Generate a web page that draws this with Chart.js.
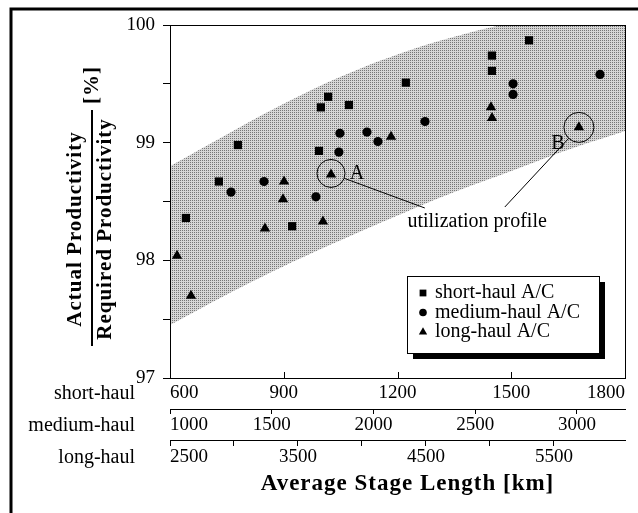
<!DOCTYPE html>
<html>
<head>
<meta charset="utf-8">
<title>Actual / Required Productivity vs Average Stage Length</title>
<script src="https://cdn.jsdelivr.net/npm/chart.js@4.4.1/dist/chart.umd.min.js"></script>
<style>
    html, body { margin: 0; padding: 0; background: #fff; }
    #wrap { width: 638px; height: 513px; }
</style>
</head>
<body>
<div id="wrap"><canvas id="chart" width="638" height="513"></canvas></div>
<script>
(function () {
    "use strict";

    // Data (stage length in km of each fleet's own axis, productivity in %)
    var shortKm   = [1017, 998, 1072, 779, 993, 729, 642, 922, 1222, 1547, 1449, 1449];
    var shortProd = [99.39, 99.30, 99.32, 98.98, 98.93, 98.67, 98.36, 98.29, 99.51, 99.87, 99.74, 99.61];

    var mediumKm   = [1835, 1968, 2022, 1830, 1462, 1300, 1717, 3113, 2686, 2686, 2253];
    var mediumProd = [99.08, 99.09, 99.01, 98.92, 98.67, 98.58, 98.54, 99.58, 99.50, 99.41, 99.18];

    var longKm   = [4227, 3758, 3391, 3383, 3242, 3695, 2555, 2664, 5008, 5016, 5695];
    var longProd = [99.05, 98.73, 98.67, 98.52, 98.27, 98.33, 98.04, 97.70, 99.30, 99.21, 99.13];

    // shaded band (short-haul km)
    var bandKm    = [600, 750, 900, 1050, 1200, 1350, 1500, 1650, 1800];
    var bandUpper = [98.80, 99.07, 99.33, 99.56, 99.75, 99.90, 100.02, 100.12, 100.22];
    var bandLower = [97.45, 97.71, 97.95, 98.17, 98.38, 98.58, 98.76, 98.94, 99.10];

    // axes
    var shortRange  = [600, 1800];
    var shortTicks  = [600, 900, 1200, 1500, 1800];
    var mediumRange = [1000, 3236];
    var mediumTicks = [1000, 1500, 2000, 2500, 3000];
    var longRange   = [2500, 6055];
    var longTicks   = [2500, 3000, 3500, 4000, 4500, 5000, 5500];
    var longLabels  = [2500, 3500, 4500, 5500];
    var yRange      = [97, 100];
    var yTicks      = [97, 97.5, 98, 98.5, 99, 99.5, 100];
    var yLabels     = [97, 98, 99, 100];

    // annotations
    var markA = 1, markB = 10;               // indexes into the long-haul series
    var noteKm = 1410, noteProd = 98.33;     // "utilization profile" text
    var leadA = [1272, 98.445], leadB = [1483, 98.453];

    var SERIF = "'Liberation Serif', 'Times New Roman', serif";
    Chart.defaults.font.family = SERIF;
    Chart.defaults.color = "#000";

    var canvas = document.getElementById("chart");
    var ctx = canvas.getContext("2d");

    // dotted grey screen for the band
    var tile = document.createElement("canvas");
    tile.width = 2; tile.height = 2;
    var tctx = tile.getContext("2d");
    tctx.fillStyle = "#d6d6d6"; tctx.fillRect(0, 0, 2, 2);
    tctx.fillStyle = "#767676"; tctx.fillRect(0, 0, 1, 1);
    var stipple = ctx.createPattern(tile, "repeat");

    function pts(xs, ys) {
        return xs.map(function (v, i) { return {x: v, y: ys[i]}; });
    }

    function setTicks(list, extra) {
        return function (scale) {
            var t = list.map(function (v) { return {value: v}; });
            if (extra) t.push({value: scale.max});
            scale.ticks = t;
        };
    }

    function tickColorFor(list) {
        return function (c) {
            return (c.tick && list.indexOf(c.tick.value) >= 0) ? "#000" : "rgba(0,0,0,0)";
        };
    }

    var tickFont = {size: 19};
    var rowLabels = [
        {axis: "x",  text: "short-haul",  off: 0 + 4 + 11.4},
        {axis: "x2", text: "medium-haul", off: 5 + 0 + 11.4},
        {axis: "x3", text: "long-haul",   off: 6 + 0 + 11.4}
    ];

    var figurePlugin = {
        id: "figure",
        beforeDraw: function (chart) {
            var c = chart.ctx;
            c.save();
            c.fillStyle = "#fff";
            c.fillRect(0, 0, chart.width, chart.height);
            c.restore();
        },
        afterDatasetsDraw: function (chart) {
            var c = chart.ctx, s = chart.scales, a = chart.chartArea;
            c.save();
            c.strokeStyle = "#000";
            c.fillStyle = "#000";

            // circles around the two marked long-haul points
            c.lineWidth = 1;
            var ax = s.x3.getPixelForValue(longKm[markA]), ay = s.y.getPixelForValue(longProd[markA]) - 1;
            var bx = s.x3.getPixelForValue(longKm[markB]), by = s.y.getPixelForValue(longProd[markB]);
            var r = 14;
            c.beginPath(); c.arc(ax, ay, r, 0, Math.PI * 2); c.stroke();
            c.beginPath(); c.arc(bx, by, r + 1, 0, Math.PI * 2); c.stroke();

            // leader lines
            function leader(cx, cy, rad, end) {
                var ex = s.x.getPixelForValue(end[0]), ey = s.y.getPixelForValue(end[1]);
                var d = Math.sqrt((ex - cx) * (ex - cx) + (ey - cy) * (ey - cy));
                c.beginPath();
                c.moveTo(cx + (ex - cx) / d * rad, cy + (ey - cy) / d * rad);
                c.lineTo(ex, ey);
                c.stroke();
            }
            leader(ax, ay, r, leadA);
            leader(bx, by, r + 1, leadB);

            c.font = "20px " + SERIF;
            c.textAlign = "center";
            c.textBaseline = "middle";
            c.fillText("A", ax + 26, ay);
            c.fillText("B", bx - 21, by + 16);
            c.fillText("utilization profile", s.x.getPixelForValue(noteKm), s.y.getPixelForValue(noteProd));

            // plot frame and inward ticks on the short-haul axis
            c.lineWidth = 1;
            c.strokeRect(a.left + 0.5, a.top + 0.5, a.right - a.left, a.bottom - a.top);
            shortTicks.forEach(function (v) {
                if (v === shortRange[0] || v === shortRange[1]) return;
                var x = Math.round(s.x.getPixelForValue(v)) + 0.5;
                c.beginPath(); c.moveTo(x, a.bottom); c.lineTo(x, a.bottom - 6); c.stroke();
            });
            c.restore();
        },
        afterDraw: function (chart) {
            var c = chart.ctx, s = chart.scales, a = chart.chartArea;
            c.save();
            c.fillStyle = "#000";
            c.strokeStyle = "#000";

            // legend box with drop shadow
            var lx = a.right - 218, ly = a.bottom - 102, lw = 192, lh = 77;
            c.fillRect(lx + 6, ly + 6, lw, lh);
            c.fillStyle = "#fff";
            c.fillRect(lx, ly, lw, lh);
            c.lineWidth = 1;
            c.strokeRect(lx + 0.5, ly + 0.5, lw, lh);
            c.fillStyle = "#000";
            c.font = "20px " + SERIF;
            c.textAlign = "left";
            c.textBaseline = "middle";
            var entries = chart.data.datasets.filter(function (d) { return d.inLegend; });
            entries.forEach(function (d, i) {
                var y = ly + 17 + i * 19.5;
                Chart.helpers.drawPoint(c, {pointStyle: d.pointStyle, radius: d.legendRadius, rotation: 0, borderWidth: 0}, lx + 16, y);
                c.fillText(d.label, lx + 28, y);
            });

            // row labels of the three stage length axes
            c.textAlign = "right";
            rowLabels.forEach(function (row) {
                c.fillText(row.text, 135, s[row.axis].top + row.off);
            });

            // x axis title
            c.font = "bold 23px " + SERIF;
            c.textAlign = "center";
            if ("letterSpacing" in c) c.letterSpacing = "1px";
            c.fillText("Average Stage Length [km]", (a.left + a.right) / 2 + 10, 484);

            // y axis title as a fraction
            c.font = "bold 21px " + SERIF;
            var fy = 229;
            c.save();
            c.translate(76, fy); c.rotate(-Math.PI / 2);
            c.fillText("Actual Productivity", 0, 0);
            c.restore();
            c.save();
            c.translate(106, fy); c.rotate(-Math.PI / 2);
            c.fillText("Required Productivity", 0, 0);
            c.restore();
            c.save();
            c.translate(93, 85); c.rotate(-Math.PI / 2);
            c.fillText("[%]", 0, 0);
            c.restore();
            if ("letterSpacing" in c) c.letterSpacing = "0px";
            c.lineWidth = 2;
            c.beginPath(); c.moveTo(92, 110); c.lineTo(92, 346); c.stroke();

            // outer figure border
            c.lineWidth = 3;
            c.beginPath(); c.moveTo(11, 513); c.lineTo(11, 9); c.lineTo(638, 9); c.stroke();
            c.restore();
        }
    };

    var chart = new Chart(ctx, {
        type: "scatter",
        data: {
            datasets: [
                {
                    label: "band upper",
                    type: "line",
                    data: pts(bandKm, bandUpper),
                    xAxisID: "x",
                    borderColor: "rgba(0,0,0,0)",
                    borderWidth: 0,
                    pointRadius: 0,
                    tension: 0.4,
                    fill: "+1",
                    backgroundColor: stipple,
                    order: 10
                },
                {
                    label: "band lower",
                    type: "line",
                    data: pts(bandKm, bandLower),
                    xAxisID: "x",
                    borderColor: "rgba(0,0,0,0)",
                    borderWidth: 0,
                    pointRadius: 0,
                    tension: 0.4,
                    fill: false,
                    order: 10
                },
                {
                    label: "short-haul A/C",
                    inLegend: true,
                    data: pts(shortKm, shortProd),
                    xAxisID: "x",
                    pointStyle: "rect",
                    pointRadius: 5.8,
                    legendRadius: 4.8,
                    backgroundColor: "#000",
                    borderWidth: 0,
                    order: 1
                },
                {
                    label: "medium-haul A/C",
                    inLegend: true,
                    data: pts(mediumKm, mediumProd),
                    xAxisID: "x2",
                    pointStyle: "circle",
                    pointRadius: 4.6,
                    legendRadius: 3.8,
                    backgroundColor: "#000",
                    borderWidth: 0,
                    order: 1
                },
                {
                    label: "long-haul A/C",
                    inLegend: true,
                    data: pts(longKm, longProd),
                    xAxisID: "x3",
                    pointStyle: "triangle",
                    pointRadius: 6,
                    legendRadius: 4.8,
                    backgroundColor: "#000",
                    borderWidth: 0,
                    order: 1
                }
            ]
        },
        options: {
            responsive: false,
            animation: false,
            events: [],
            layout: {padding: {top: 25, right: 13, bottom: 0, left: 0}},
            plugins: {legend: {display: false}, tooltip: {enabled: false}},
            scales: {
                x: {
                    type: "linear", position: "bottom", weight: 1,
                    min: shortRange[0], max: shortRange[1],
                    afterBuildTicks: setTicks(shortTicks, false),
                    afterFit: function (s) { s.height = 31; },
                    ticks: {font: tickFont, align: "inner", padding: 4, autoSkip: false, maxRotation: 0,
                        callback: function (v) { return String(v); }},
                    grid: {drawOnChartArea: false, drawTicks: false},
                    border: {display: true, color: "#000", width: 1}
                },
                x2: {
                    type: "linear", position: "bottom", weight: 2,
                    min: mediumRange[0], max: mediumRange[1],
                    afterBuildTicks: setTicks(mediumTicks, true),
                    afterFit: function (s) { s.height = 31; },
                    ticks: {font: tickFont, align: "inner", padding: 0, autoSkip: false, maxRotation: 0,
                        callback: function (v) { return mediumTicks.indexOf(v) >= 0 ? String(v) : ""; }},
                    grid: {drawOnChartArea: false, tickLength: 5, tickColor: tickColorFor(mediumTicks)},
                    border: {display: true, color: "#000", width: 1}
                },
                x3: {
                    type: "linear", position: "bottom", weight: 3,
                    min: longRange[0], max: longRange[1],
                    afterBuildTicks: setTicks(longTicks, true),
                    afterFit: function (s) { s.height = 73; },
                    ticks: {font: tickFont, align: "inner", padding: 0, autoSkip: false, maxRotation: 0,
                        callback: function (v) { return longLabels.indexOf(v) >= 0 ? String(v) : ""; }},
                    grid: {drawOnChartArea: false, tickLength: 6, tickColor: tickColorFor(longTicks)},
                    border: {display: true, color: "#000", width: 1}
                },
                y: {
                    type: "linear", position: "left",
                    min: yRange[0], max: yRange[1],
                    afterBuildTicks: setTicks(yTicks, false),
                    afterFit: function (s) { s.width = 170; },
                    ticks: {font: tickFont, padding: 8, autoSkip: false,
                        callback: function (v) { return yLabels.indexOf(v) >= 0 ? String(v) : ""; }},
                    grid: {drawOnChartArea: false, tickLength: 7, tickColor: "#000"},
                    border: {display: true, color: "#000", width: 1}
                }
            }
        },
        plugins: [figurePlugin]
    });
})();
</script>
</body>
</html>
